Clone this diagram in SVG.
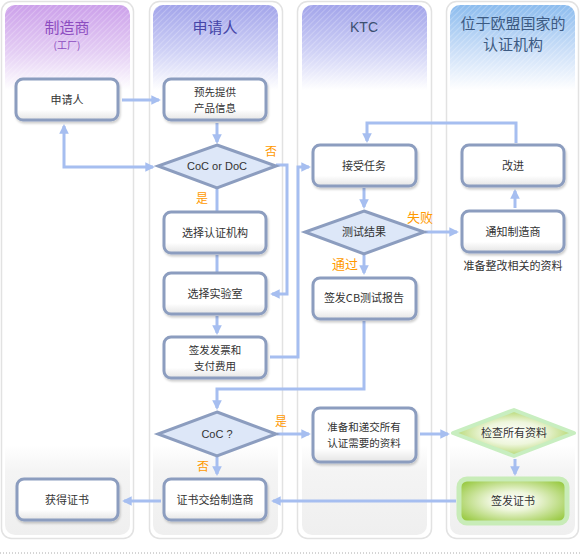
<svg xmlns="http://www.w3.org/2000/svg" width="580" height="555" viewBox="0 0 580 555">
<defs>
<linearGradient id="hPurple" x1="0" y1="0" x2="0" y2="1"><stop offset="0" stop-color="#cca0ea"/><stop offset="0.55" stop-color="#e4cef4"/><stop offset="1" stop-color="#ffffff"/></linearGradient>
<linearGradient id="hBlue" x1="0" y1="0" x2="0" y2="1"><stop offset="0" stop-color="#a2a4ea"/><stop offset="0.55" stop-color="#d0d2f6"/><stop offset="1" stop-color="#ffffff"/></linearGradient>
<linearGradient id="hSky" x1="0" y1="0" x2="0" y2="1"><stop offset="0" stop-color="#8cbcee"/><stop offset="0.55" stop-color="#cde0f8"/><stop offset="1" stop-color="#ffffff"/></linearGradient>
<linearGradient id="foot" x1="0" y1="0" x2="0" y2="1"><stop offset="0" stop-color="#ffffff"/><stop offset="0.3" stop-color="#f4f4f4"/><stop offset="1" stop-color="#efefef"/></linearGradient>
<linearGradient id="nodeFill" x1="0" y1="0" x2="0" y2="1"><stop offset="0" stop-color="#ffffff"/><stop offset="0.75" stop-color="#ffffff"/><stop offset="1" stop-color="#e4e4e4"/></linearGradient>
<radialGradient id="greenR" cx="0.5" cy="0.5" r="0.6"><stop offset="0" stop-color="#ffffff"/><stop offset="0.35" stop-color="#eef6dc"/><stop offset="1" stop-color="#9ccb48"/></radialGradient>
<radialGradient id="greenD" cx="0.5" cy="0.5" r="0.55"><stop offset="0" stop-color="#ffffff"/><stop offset="0.45" stop-color="#eef6dc"/><stop offset="1" stop-color="#a8d058"/></radialGradient>
<pattern id="hatch" width="4" height="4" patternUnits="userSpaceOnUse" patternTransform="rotate(45)"><line x1="0" y1="0" x2="0" y2="4" stroke="#ffffff" stroke-width="1" stroke-opacity="0.45"/></pattern>
<filter id="sh" x="-10%" y="-10%" width="125%" height="130%"><feDropShadow dx="1" dy="2" stdDeviation="1.2" flood-color="#000" flood-opacity="0.2"/></filter>
<marker id="ah" viewBox="0 0 10 10" refX="8" refY="5" markerWidth="3.2" markerHeight="3.2" orient="auto-start-reverse"><path d="M0,0 L10,5 L0,10 z" fill="#a6bef0"/></marker>
<style>
.lane{fill:#ffffff;stroke:#e2e2e2;stroke-width:1.5}
.node{fill:url(#nodeFill);stroke:#8c9dbf;stroke-width:3;filter:url(#sh)}
.dia{fill:#dde7f8;stroke:#8c9dbf;stroke-width:3}
.t{font-family:"Noto Sans CJK SC","Noto Sans",sans-serif;font-size:11px;fill:#333333;text-anchor:middle}
.t2{font-family:"Noto Sans CJK SC","Noto Sans",sans-serif;font-size:10.5px;fill:#333333;text-anchor:middle}
.lbl{font-family:"Noto Sans CJK SC","Noto Sans",sans-serif;font-size:12px;fill:#ff9a00;text-anchor:middle}
.hd{font-family:"Noto Sans CJK SC","Noto Sans",sans-serif;font-size:15px;text-anchor:middle}
.c{fill:none;stroke:#a6bef0;stroke-width:3}
.ca{fill:none;stroke:#a6bef0;stroke-width:3;marker-end:url(#ah)}
</style>
</defs>
<rect width="580" height="555" fill="#ffffff"/>
<g id="lanes">
<rect class="lane" x="1.5" y="1.5" width="132" height="537" rx="10"/>
<rect class="lane" x="149.5" y="1.5" width="133" height="537" rx="10"/>
<rect class="lane" x="297.5" y="1.5" width="134" height="537" rx="10"/>
<rect class="lane" x="446.5" y="1.5" width="132" height="537" rx="10"/>
<path d="M5,15 a10,10 0 0 1 10,-10 h105 a10,10 0 0 1 10,10 v75 h-125 z" fill="url(#hPurple)"/>
<path d="M153,15 a10,10 0 0 1 10,-10 h105 a10,10 0 0 1 10,10 v75 h-125 z" fill="url(#hBlue)"/>
<path d="M302,15 a10,10 0 0 1 10,-10 h105 a10,10 0 0 1 10,10 v75 h-125 z" fill="url(#hBlue)"/>
<path d="M450,15 a10,10 0 0 1 10,-10 h105 a10,10 0 0 1 10,10 v75 h-125 z" fill="url(#hSky)"/>
<rect x="5" y="5" width="125" height="85" fill="url(#hatch)"/>
<rect x="153" y="5" width="125" height="85" fill="url(#hatch)"/>
<rect x="302" y="5" width="125" height="85" fill="url(#hatch)"/>
<rect x="450" y="5" width="125" height="85" fill="url(#hatch)"/>
<path d="M5,445 h125 v80 a10,10 0 0 1 -10,10 h-105 a10,10 0 0 1 -10,-10 z" fill="url(#foot)"/>
<path d="M153,445 h125 v80 a10,10 0 0 1 -10,10 h-105 a10,10 0 0 1 -10,-10 z" fill="url(#foot)"/>
<path d="M302,445 h125 v80 a10,10 0 0 1 -10,10 h-105 a10,10 0 0 1 -10,-10 z" fill="url(#foot)"/>
<path d="M450,445 h125 v80 a10,10 0 0 1 -10,10 h-105 a10,10 0 0 1 -10,-10 z" fill="url(#foot)"/>
<text class="hd" x="67" y="33" fill="#8c4cc0">制造商</text>
<text class="hd" x="67" y="49" fill="#8c4cc0" style="font-size:10px">(工厂)</text>
<text class="hd" x="215" y="33" fill="#4646a8">申请人</text>
<text class="hd" x="364" y="32" fill="#3c5070" style="font-family:'Liberation Sans',sans-serif;font-size:14px">KTC</text>
<text class="hd" x="513" y="29" fill="#3c5a82">位于欧盟国家的</text>
<text class="hd" x="513" y="50" fill="#3c5a82">认证机构</text>
<line x1="0" y1="553" x2="580" y2="553" stroke="#aaaaaa" stroke-width="1" stroke-dasharray="1,2"/>
</g>
<g id="connectors">
<line class="ca" x1="122" y1="100" x2="159" y2="100"/>
<line class="ca" x1="217" y1="123" x2="217" y2="142"/>
<path class="c" d="M64,126 V167 H153" marker-start="url(#ah)" marker-end="url(#ah)"/>
<line class="c" x1="217" y1="188" x2="217" y2="212"/>
<line class="c" x1="217" y1="255" x2="217" y2="273"/>
<line class="ca" x1="217" y1="316" x2="217" y2="333"/>
<path class="ca" d="M276,165 H287 V294 H272"/>
<path class="ca" d="M270,357 H298 V167 H309"/>
<path class="ca" d="M516,143 V123 H367 V141"/>
<line class="ca" x1="364" y1="188" x2="364" y2="207"/>
<line class="ca" x1="425" y1="232" x2="457" y2="232"/>
<line class="ca" x1="515" y1="208" x2="515" y2="191"/>
<line class="ca" x1="364" y1="255" x2="364" y2="273"/>
<path class="ca" d="M364,321 V389 H217 V408"/>
<line class="ca" x1="277" y1="434" x2="309" y2="434"/>
<line class="ca" x1="217" y1="457" x2="217" y2="474"/>
<line class="ca" x1="420" y1="434" x2="448" y2="434"/>
<line class="ca" x1="515" y1="459" x2="515" y2="474"/>
<line class="ca" x1="456" y1="501" x2="273" y2="501"/>
<line class="ca" x1="161" y1="501" x2="124" y2="501"/>
<text class="lbl" x="271" y="156">否</text>
<text class="lbl" x="202" y="203">是</text>
<text class="lbl" x="420" y="222" style="font-size:13px">失败</text>
<text class="lbl" x="345" y="269" style="font-size:13px">通过</text>
<text class="lbl" x="281" y="426">是</text>
<text class="lbl" x="203" y="471">否</text>
</g>
<g id="n1"><rect class="node" x="16" y="79" width="102" height="41" rx="7"/><text class="t" x="67" y="104">申请人</text></g>
<g id="n2"><rect class="node" x="164" y="79" width="102" height="41" rx="7"/><text class="t2" x="215" y="96">预先提供</text><text class="t2" x="215" y="112">产品信息</text></g>
<g id="n3"><polygon class="dia" points="217,145 276,166 217,188 158,166"/><text class="t" x="217" y="170" style="font-family:'Liberation Sans',sans-serif">CoC or DoC</text></g>
<g id="n4"><rect class="node" x="164" y="212" width="102" height="41" rx="7"/><text class="t" x="215" y="237">选择认证机构</text></g>
<g id="n5"><rect class="node" x="164" y="273" width="102" height="41" rx="7"/><text class="t" x="215" y="298">选择实验室</text></g>
<g id="n6"><rect class="node" x="164" y="337" width="102" height="41" rx="7"/><text class="t2" x="215" y="354">签发发票和</text><text class="t2" x="215" y="370">支付费用</text></g>
<g id="n7"><polygon class="dia" points="217,412 276,434 217,456 158,434"/><text class="t" x="217" y="438" style="font-family:'Liberation Sans',sans-serif">CoC ?</text></g>
<g id="n8"><rect class="node" x="164" y="479" width="102" height="41" rx="7"/><text class="t" x="215" y="504">证书交给制造商</text></g>
<g id="n9"><rect class="node" x="17" y="479" width="101" height="41" rx="7"/><text class="t" x="67" y="504">获得证书</text></g>
<g id="n10"><rect class="node" x="313" y="145" width="103" height="41" rx="7"/><text class="t" x="364" y="170">接受任务</text></g>
<g id="n11"><polygon class="dia" points="364,211 424,232 364,254 305,232"/><text class="t" x="364" y="236">测试结果</text></g>
<g id="n12"><rect class="node" x="313" y="278" width="103" height="41" rx="7"/><text class="t" x="364" y="302">签发CB测试报告</text></g>
<g id="n13"><rect class="node" x="313" y="408" width="103" height="54" rx="7"/><text class="t2" x="364" y="431">准备和递交所有</text><text class="t2" x="364" y="447">认证需要的资料</text></g>
<g id="n14"><rect class="node" x="462" y="145" width="102" height="41" rx="7"/><text class="t" x="513" y="170">改进</text></g>
<g id="n15"><rect class="node" x="462" y="211" width="102" height="41" rx="7"/><text class="t" x="513" y="236">通知制造商</text><text class="t" x="513" y="270">准备整改相关的资料</text></g>
<g id="n16"><polygon points="514,410 574,433 514,456 453,433" fill="url(#greenD)" stroke="#c8eec0" stroke-width="4" stroke-linejoin="round"/><text class="t" x="514" y="437">检查所有资料</text></g>
<g id="n17"><rect x="459" y="479" width="108" height="44" rx="8" fill="url(#greenR)" stroke="#c8ecb8" stroke-width="5"/><text class="t" x="513" y="505">签发证书</text></g>
</svg>
